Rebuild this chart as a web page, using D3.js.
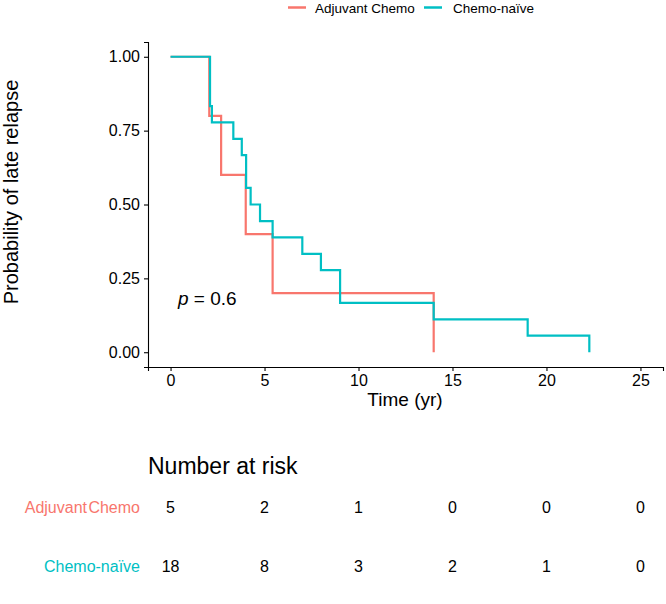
<!DOCTYPE html>
<html>
<head>
<meta charset="utf-8">
<script src="https://cdn.jsdelivr.net/npm/d3@7"></script>
<style>
  html, body { margin: 0; padding: 0; background: #fff; }
  svg { display: block; font-family: "Liberation Sans", Arial, sans-serif; }
</style>
</head>
<body>
<svg id="chart" width="666" height="604"></svg>
<script>
// ---- data ----
const groups = ["Adjuvant Chemo", "Chemo-naïve"];
const groupColors = ["#F8766D", "#00BFC4"];
const adjTimes = [0, 2.06, 2.69, 4.0, 5.43, 14.0];
const adjSurv  = [1, 0.8, 0.6, 0.4, 0.2, 0];
const naiveTimes = [0, 2.1, 2.2, 3.34, 3.79, 4.02, 4.26, 4.76, 5.43, 7.01, 8.0, 9.02, 14.0, 19.0, 22.28];
const naiveSurv  = [1, 0.833, 0.778, 0.722, 0.667, 0.556, 0.5, 0.444, 0.389, 0.333, 0.278, 0.167, 0.111, 0.056, 0];
const xTicks = [0, 5, 10, 15, 20, 25];
const yTicks = [0, 0.25, 0.5, 0.75, 1];
const riskAdj = [5, 2, 1, 0, 0, 0];
const riskNaive = [18, 8, 3, 2, 1, 0];
const riskLabels = ["Adjuvant Chemo", "Chemo-naïve"];
const pText = "0.6";

// ---- layout ----
const svg = d3.select("#chart");
const x = d3.scaleLinear().domain([-1.2, 26.2]).range([148, 663]);
const y = d3.scaleLinear().domain([-0.05, 1.05]).range([367, 42]);

// axes
const xAxis = svg.append("g").attr("transform", "translate(0,367)")
  .call(d3.axisBottom(x).tickValues(xTicks).tickSize(4).tickPadding(4).tickFormat(d3.format("d")));
const yAxis = svg.append("g").attr("transform", "translate(148,0)")
  .call(d3.axisLeft(y).tickValues(yTicks).tickSize(4).tickPadding(4).tickFormat(d3.format(".2f")));
[xAxis, yAxis].forEach(a => {
  a.select(".domain").attr("stroke", "#000").attr("stroke-width", 1.1);
  a.selectAll(".tick line").attr("stroke", "#000").attr("stroke-width", 1.1);
  a.selectAll(".tick text").attr("fill", "#000").style("font-size", "16px")
    .style("font-family", "'Liberation Sans', Arial, sans-serif");
});

// axis titles
svg.append("text").attr("x", 405).attr("y", 406).attr("text-anchor", "middle")
  .style("font-size", "19px").text("Time (yr)");
svg.append("text").attr("transform", "translate(18,192) rotate(-90)").attr("text-anchor", "middle")
  .style("font-size", "20px").text("Probability of late relapse");

// curves
const line = d3.line().x(d => x(d[0])).y(d => y(d[1])).curve(d3.curveStepAfter);
const series = [
  d3.zip(adjTimes, adjSurv),
  d3.zip(naiveTimes, naiveSurv)
];
series.forEach((s, i) => {
  svg.append("path").datum(s).attr("d", line)
    .attr("fill", "none").attr("stroke", groupColors[i]).attr("stroke-width", 2.2);
});

// p-value
const pt = svg.append("text").attr("x", 178).attr("y", 305).style("font-size", "19px");
pt.append("tspan").style("font-style", "italic").text("p");
pt.append("tspan").text(" = " + pText);

// legend
const legendItems = [
  { x0: 288, tx: 315 },
  { x0: 424, tx: 453 }
];
groups.forEach((g, i) => {
  svg.append("line").attr("x1", legendItems[i].x0).attr("x2", legendItems[i].x0 + 18)
    .attr("y1", 7.5).attr("y2", 7.5).attr("stroke", groupColors[i]).attr("stroke-width", 2.5);
  svg.append("text").attr("x", legendItems[i].tx).attr("y", 12.5).style("font-size", "13.5px")
    .attr("fill", "#000").text(g);
});

// risk table
svg.append("text").attr("x", 148).attr("y", 474).style("font-size", "23px").text("Number at risk");
const rows = [riskAdj, riskNaive];
const rowY = [513, 572];
rows.forEach((r, i) => {
  svg.append("text").attr("x", 140).attr("y", rowY[i]).attr("text-anchor", "end")
    .attr("fill", groupColors[i]).style("font-size", "16px").style("word-spacing", "-3px").text(riskLabels[i]);
  svg.selectAll(null).data(r).enter().append("text")
    .attr("x", (d, j) => x(xTicks[j])).attr("y", rowY[i]).attr("text-anchor", "middle")
    .attr("fill", "#000").style("font-size", "16px").text(d => d);
});
</script>
</body>
</html>
